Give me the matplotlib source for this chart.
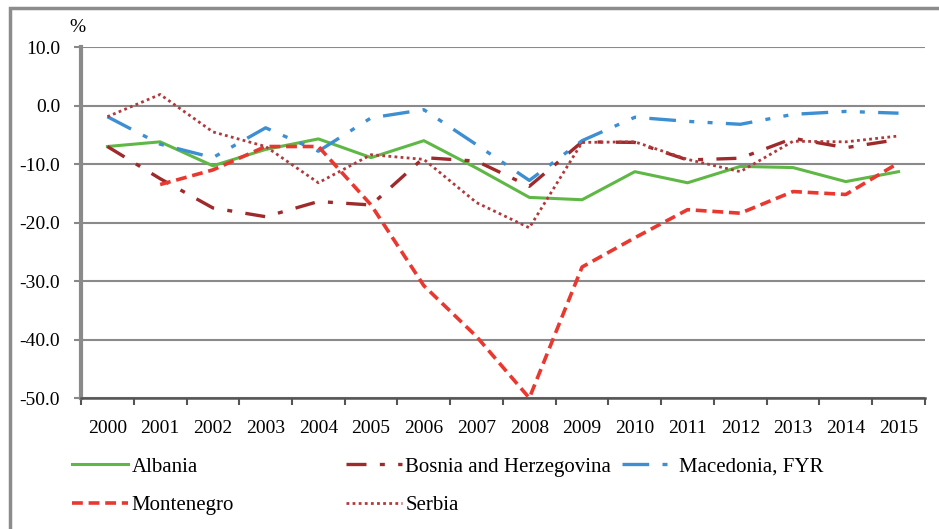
import numpy as np
import matplotlib
matplotlib.use("Agg")
import matplotlib.pyplot as plt
from matplotlib.patches import Rectangle

years = [str(y) for y in range(2000, 2016)]

albania = [-7.0, -6.2, -10.3, -7.5, -5.7, -8.9, -6.0, -10.7, -15.7, -16.1,
           -11.3, -13.2, -10.4, -10.6, -13.0, -11.3]
bosnia = [-7.0, -12.5, -17.5, -19.0, -16.4, -17.0, -8.9, -9.5, -13.8, -6.2,
          -6.3, -9.3, -9.0, -5.6, -7.2, -5.8]
macedonia = [-1.9, -6.6, -8.9, -3.8, -7.8, -2.1, -0.7, -6.7, -12.8, -6.0,
             -2.0, -2.7, -3.2, -1.5, -1.0, -1.3]
montenegro = [np.nan, -13.5, -11.0, -7.0, -7.0, -17.0, -30.8, -39.5, -50.0, -27.6,
              -22.6, -17.8, -18.4, -14.7, -15.2, -9.8]
serbia = [-1.9, 1.9, -4.5, -7.0, -13.2, -8.4, -9.2, -16.6, -20.9, -6.3,
          -6.2, -9.2, -11.3, -6.1, -6.2, -5.2]

plt.rcParams['font.family'] = ['Liberation Serif', 'DejaVu Serif']

fig = plt.figure(figsize=(9.39, 5.29), dpi=100)
ax = fig.add_axes([0.0863, 0.2476, 0.8987, 0.6634])

x = np.arange(len(years))
l_alb, = ax.plot(x, albania, color='#5fb846', lw=2.2, label='Albania')
l_bos, = ax.plot(x, bosnia, color='#9e2a2b', lw=2.4, dashes=(6, 4, 1.5, 4), label='Bosnia and Herzegovina')
l_mac, = ax.plot(x, macedonia, color='#3d8fd1', lw=2.4, dashes=(8, 4, 1.5, 4, 1.5, 4), label='Macedonia, FYR')
l_mon, = ax.plot(x, montenegro, color='#e8382f', lw=2.6, dashes=(3, 1.6), label='Montenegro')
l_ser, = ax.plot(x, serbia, color='#b2393b', lw=2.0, dashes=(1, 1.2), label='Serbia')

ax.set_xlim(-0.5, len(years) - 0.5)
ax.set_ylim(-50, 10)
ax.set_yticks(np.arange(-50, 11, 10))
ax.set_yticklabels(['%.1f' % v for v in np.arange(-50, 11, 10)], fontsize=14)
ax.set_xticks(x)
ax.set_xticklabels(years, fontsize=14)
ax.set_xticks(np.arange(-0.5, len(years), 1), minor=True)
ax.tick_params(axis='x', which='major', length=0, pad=16)
ax.tick_params(axis='x', which='minor', length=5, color='#555555', width=1.5)
ax.tick_params(axis='y', length=5, color='#888888', width=1.5, pad=10)

ax.grid(axis='y', color='#8a8a8a', lw=1.5)
ax.set_axisbelow(True)
for s in ['top', 'right']:
    ax.spines[s].set_visible(False)
ax.spines['left'].set_color('#8a8a8a')
ax.spines['left'].set_linewidth(3)
ax.spines['bottom'].set_color('#555555')
ax.spines['bottom'].set_linewidth(1.8)

fig.text(77 / 939, 1 - 27 / 529, '%', fontsize=14, ha='center', va='center')

# legend in three columns, placed by hand
cols = [([l_alb, l_mon], 72, 2.7), ([l_bos, l_ser], 346, 2.7), ([l_mac], 622, 2.6)]
for hs, px, hl in cols:
    fig.legend(handles=hs, loc='upper left', bbox_to_anchor=(px / 939, 1 - 457 / 529),
               frameon=False, fontsize=15, handlelength=hl, handletextpad=0.15,
               labelspacing=0.9, borderpad=0, borderaxespad=0)

# outer frame of the picture (only left and top edges visible)
fig.patches.append(Rectangle((10 / 939, -0.1), 1.2, 1.1 - 8 / 529, transform=fig.transFigure,
                             fill=False, edgecolor='#8c8c8c', lw=2.5))

fig.savefig('out.png', dpi=100)
